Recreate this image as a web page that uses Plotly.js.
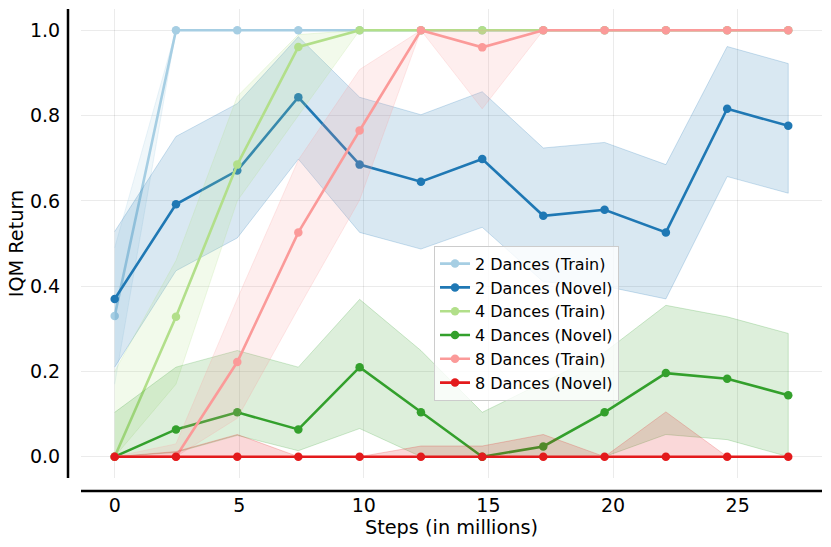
<!DOCTYPE html>
<html>
<head>
<meta charset="utf-8">
<script src="https://cdn.plot.ly/plotly-3.0.1.min.js"></script>
<style>html,body{margin:0;padding:0;background:#fff;}#chart{width:831px;height:547px;}</style>
</head>
<body>
<div id="chart"></div>
<script>
// Steps (in millions)
var steps = [0, 2.46, 4.92, 7.37, 9.83, 12.29, 14.75, 17.20, 19.66, 22.12, 24.58, 27.03];

var train2   = [0.33, 1, 1, 1, 1, 1, 1, 1, 1, 1, 1, 1];
var train2Hi = [0.49, 1, 1, 1, 1, 1, 1, 1, 1, 1, 1, 1];
var train2Lo = [0.17, 1, 1, 1, 1, 1, 1, 1, 1, 1, 1, 1];

var novel2   = [0.37, 0.592, 0.671, 0.843, 0.685, 0.645, 0.698, 0.565, 0.579, 0.526, 0.816, 0.776];
var novel2Hi = [0.528, 0.751, 0.828, 0.985, 0.843, 0.802, 0.856, 0.724, 0.737, 0.685, 0.962, 0.922];
var novel2Lo = [0.21, 0.436, 0.513, 0.698, 0.526, 0.487, 0.538, 0.41, 0.40, 0.37, 0.657, 0.618];

var train4   = [0, 0.328, 0.685, 0.961, 1, 1, 1, 1, 1, 1, 1, 1];
var train4Hi = [0.2, 0.46, 0.845, 0.99, 1, 1, 1, 1, 1, 1, 1, 1];
var train4Lo = [0, 0.17, 0.6, 0.8, 1, 1, 1, 1, 1, 1, 1, 1];

var novel4   = [0, 0.064, 0.104, 0.064, 0.21, 0.104, 0, 0.024, 0.104, 0.196, 0.183, 0.144];
var novel4Hi = [0.104, 0.21, 0.249, 0.21, 0.369, 0.249, 0.104, 0.175, 0.245, 0.355, 0.328, 0.289];
var novel4Lo = [0, 0.01, 0.05, 0.014, 0.066, 0, 0, 0, 0, 0.052, 0.04, 0];

var train8   = [0, 0, 0.222, 0.526, 0.765, 1, 0.96, 1, 1, 1, 1, 1];
var train8Hi = [0, 0.03, 0.37, 0.696, 0.908, 1, 1, 1, 1, 1, 1, 1];
var train8Lo = [0, 0, 0.09, 0.348, 0.602, 1, 0.816, 1, 1, 1, 1, 1];

var novel8   = [0, 0, 0, 0, 0, 0, 0, 0, 0, 0, 0, 0];
var novel8Hi = [0, 0.012, 0.052, 0, 0, 0.025, 0.025, 0.052, 0, 0.105, 0, 0];
var novel8Lo = [0, 0, 0, 0, 0, 0, 0, 0, 0, 0, 0, 0];

var xTicks = [0, 5, 10, 15, 20, 25];
var yTicks = [0, 0.2, 0.4, 0.6, 0.8, 1.0];

var series = [
  {name: '2 Dances (Train)', y: train2, hi: train2Hi, lo: train2Lo, rgb: '166,206,227'},
  {name: '2 Dances (Novel)', y: novel2, hi: novel2Hi, lo: novel2Lo, rgb: '31,120,180'},
  {name: '4 Dances (Train)', y: train4, hi: train4Hi, lo: train4Lo, rgb: '178,223,138'},
  {name: '4 Dances (Novel)', y: novel4, hi: novel4Hi, lo: novel4Lo, rgb: '51,160,44'},
  {name: '8 Dances (Train)', y: train8, hi: train8Hi, lo: train8Lo, rgb: '251,154,153'},
  {name: '8 Dances (Novel)', y: novel8, hi: novel8Hi, lo: novel8Lo, rgb: '227,26,28'}
];

var traces = [];
series.forEach(function (s) {
  var xr = steps.slice().reverse();
  var lr = s.lo.slice().reverse();
  traces.push({
    x: steps.concat(xr), y: s.hi.concat(lr),
    type: 'scatter', mode: 'lines', fill: 'toself',
    fillcolor: 'rgba(' + s.rgb + ',0.17)',
    line: {color: 'rgba(' + s.rgb + ',0.22)', width: 1},
    showlegend: false, hoverinfo: 'skip'
  });
  traces.push({
    x: steps, y: s.y, name: s.name,
    type: 'scatter', mode: 'lines+markers',
    line: {color: 'rgb(' + s.rgb + ')', width: 2.6},
    marker: {color: 'rgb(' + s.rgb + ')', size: 8.5},
    hoverinfo: 'skip'
  });
});

var font = 'DejaVu Sans, sans-serif';
var layout = {
  width: 831, height: 547, autosize: false,
  margin: {l: 81, r: 9, t: 9, b: 69, pad: 0},
  paper_bgcolor: '#ffffff', plot_bgcolor: '#ffffff',
  font: {family: font, color: '#000000'},
  showlegend: true,
  xaxis: {
    range: [-1.3517, 28.385], tickvals: xTicks, ticktext: xTicks.map(String),
    showgrid: true, gridcolor: 'rgba(0,0,0,0.08)', gridwidth: 1,
    zeroline: false, showline: false,
    ticks: 'outside', ticklen: 10, tickcolor: 'rgba(0,0,0,0)',
    tickfont: {family: font, size: 19, color: '#000'},
    title: {text: 'Steps (in millions)', font: {family: font, size: 19.3, color: '#000'}, standoff: 0}
  },
  yaxis: {
    range: [-0.05, 1.05], tickvals: yTicks, tickformat: '.1f',
    showgrid: true, gridcolor: 'rgba(0,0,0,0.08)', gridwidth: 1,
    zeroline: false, showline: false,
    ticks: 'outside', ticklen: 16, tickcolor: 'rgba(0,0,0,0)',
    tickfont: {family: font, size: 19, color: '#000'},
    title: {text: 'IQM Return', font: {family: font, size: 19.3, color: '#000'}, standoff: 1}
  },
  legend: {
    x: 0.4764, y: 0.4953, xanchor: 'left', yanchor: 'top',
    bgcolor: 'rgba(255,255,255,0.8)', bordercolor: '#cccccc', borderwidth: 1,
    font: {family: font, size: 16, color: '#000'}
  },
  shapes: [
    {type: 'line', xref: 'paper', yref: 'paper', x0: -13 / 741, x1: -13 / 741, y0: 0, y1: 1,
     line: {color: '#000', width: 2.5}},
    {type: 'line', xref: 'paper', yref: 'paper', x0: 0, x1: 1, y0: -13 / 469, y1: -13 / 469,
     line: {color: '#000', width: 2.5}}
  ]
};

Plotly.newPlot('chart', traces, layout, {displayModeBar: false, staticPlot: true});
</script>
</body>
</html>
